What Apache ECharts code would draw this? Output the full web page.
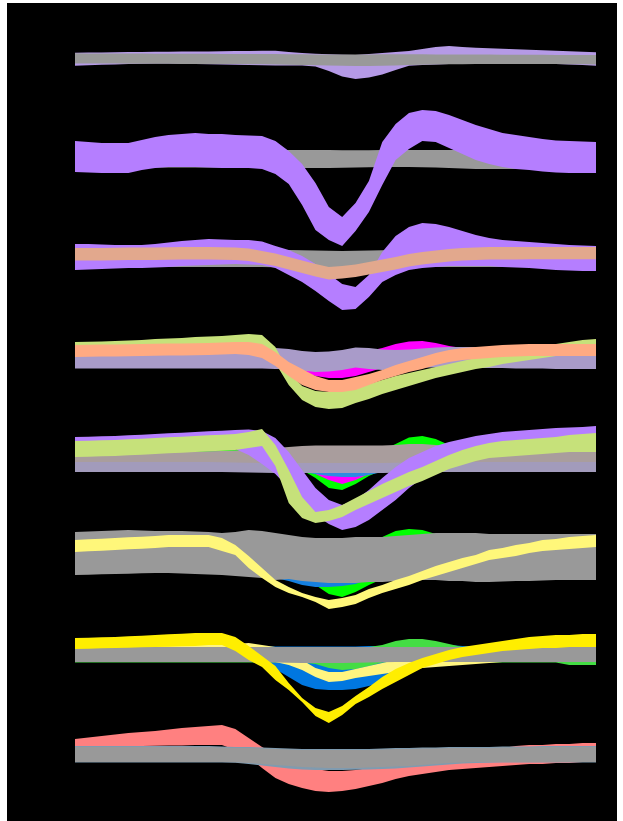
<!DOCTYPE html>
<html>
<head>
<meta charset="utf-8">
<script src="https://cdn.jsdelivr.net/npm/echarts@6/dist/echarts.min.js"></script>
<style>
  html, body { margin: 0; padding: 0; background: #fff; width: 623px; height: 821px; overflow: hidden; }
  #chart { position: absolute; left: 7px; top: 3px; width: 610px; height: 818px; background: #000; }
</style>
</head>
<body>
<div id="chart"></div>
<script>
// Sample times (ms) shared by every trace
const times = [-200,-180,-160,-140,-120,-100,-80,-60,-40,-20,
               0,20,40,60,80,100,120,140,160,180,
               200,220,240,260,280,300,320,340,360,380,
               400,420,440,460,480,500,520,540,560,580];

// ---- Panel 1 ----
const r1GrayHi = [0.57,0.56,0.55,0.55,0.54,0.54,0.53,0.53,0.52,0.52, 0.52,0.51,0.51,0.50,0.50,0.50,0.48,0.47,0.46,0.45, 0.45,0.45,0.46,0.47,0.48,0.48,0.47,0.46,0.45,0.45, 0.44,0.44,0.43,0.43,0.42,0.42,0.41,0.41,0.40,0.40];
const r1GrayLo = [-0.45,-0.45,-0.46,-0.46,-0.47,-0.47,-0.48,-0.48,-0.49,-0.50, -0.50,-0.50,-0.51,-0.52,-0.53,-0.55,-0.57,-0.60,-0.63,-0.66, -0.68,-0.70,-0.70,-0.68,-0.64,-0.60,-0.57,-0.55,-0.53,-0.52, -0.51,-0.50,-0.50,-0.50,-0.50,-0.50,-0.51,-0.52,-0.53,-0.55];
const r1LilacHi = [0.63,0.65,0.66,0.68,0.69,0.70,0.72,0.73,0.74,0.75, 0.76,0.77,0.79,0.80,0.82,0.83,0.70,0.60,0.52,0.47, 0.42,0.40,0.50,0.60,0.70,0.80,1.00,1.20,1.30,1.20, 1.13,1.08,1.03,0.98,0.93,0.88,0.83,0.78,0.72,0.67];
const r1LilacLo = [-0.67,-0.62,-0.58,-0.55,-0.50,-0.47,-0.44,-0.45,-0.48,-0.50, -0.52,-0.55,-0.57,-0.60,-0.62,-0.64,-0.65,-0.66,-0.75,-1.20, -1.75,-2.00,-1.85,-1.55,-1.10,-0.67,-0.60,-0.55,-0.50,-0.45, -0.42,-0.40,-0.38,-0.37,-0.40,-0.45,-0.50,-0.55,-0.60,-0.67];

// ---- Panel 2 ----
const r2GrayHi = [0.82,0.82,0.81,0.81,0.80,0.80,0.80,0.80,0.80,0.80, 0.80,0.80,0.80,0.80,0.80,0.80,0.80,0.80,0.79,0.79, 0.78,0.78,0.78,0.79,0.80,0.80,0.80,0.80,0.80,0.80, 0.80,0.80,0.80,0.80,0.80,0.80,0.80,0.80,0.80,0.80];
const r2GrayLo = [-0.95,-0.95,-0.95,-0.95,-0.95,-0.95,-0.95,-0.95,-0.95,-0.95, -0.95,-0.95,-0.95,-0.95,-0.95,-0.95,-0.97,-1.00,-1.00,-1.00, -0.97,-0.95,-0.92,-0.90,-0.90,-0.90,-0.92,-0.95,-1.00,-1.05, -1.10,-1.10,-1.10,-1.10,-1.10,-1.10,-1.10,-1.10,-1.10,-1.10];
const r2PurpleHi = [1.70,1.60,1.50,1.50,1.50,1.80,2.10,2.30,2.40,2.50, 2.40,2.40,2.30,2.25,2.20,1.70,0.70,-0.60,-2.50,-4.90, -5.90,-4.50,-2.30,1.60,3.40,4.50,4.80,4.70,4.30,3.80, 3.30,2.90,2.50,2.30,2.10,1.90,1.75,1.70,1.65,1.60];
const r2PurpleLo = [-1.40,-1.45,-1.50,-1.50,-1.50,-1.20,-1.00,-0.90,-0.90,-0.90, -0.95,-1.00,-1.00,-1.00,-1.10,-1.60,-2.60,-4.70,-7.20,-8.20, -8.80,-7.30,-5.40,-2.70,-0.20,0.90,1.70,1.60,1.00,0.40, -0.20,-0.60,-0.90,-1.10,-1.20,-1.35,-1.45,-1.50,-1.50,-1.50];

// ---- Panel 3 ----
const r3GrayHi = [0.80,0.80,0.80,0.80,0.80,0.80,0.80,0.80,0.80,0.80, 0.80,0.80,0.80,0.80,0.80,0.80,0.80,0.78,0.75,0.72, 0.70,0.72,0.75,0.78,0.80,0.80,0.80,0.80,0.80,0.80, 0.80,0.80,0.80,0.80,0.80,0.80,0.80,0.80,0.80,0.80];
const r3GrayLo = [-0.90,-0.90,-0.90,-0.90,-0.90,-0.90,-0.90,-0.90,-0.90,-0.90, -0.90,-0.90,-0.90,-0.90,-0.90,-0.92,-0.95,-0.98,-1.00,-1.00, -1.00,-1.00,-0.98,-0.95,-0.92,-0.90,-0.90,-0.90,-0.90,-0.90, -0.90,-0.90,-0.90,-0.90,-0.90,-0.90,-0.90,-0.90,-0.90,-0.90];
const r3PurpleHi = [1.40,1.40,1.35,1.30,1.30,1.30,1.40,1.55,1.70,1.80, 1.90,1.85,1.80,1.80,1.65,1.20,0.80,0.20,-0.60,-1.60, -2.60,-2.90,-1.70,0.60,2.20,3.10,3.50,3.40,3.10,2.70, 2.30,2.00,1.80,1.70,1.60,1.50,1.40,1.30,1.25,1.20];
const r3PurpleLo = [-1.20,-1.15,-1.10,-1.05,-1.00,-1.00,-0.95,-0.90,-0.80,-0.75, -0.70,-0.65,-0.60,-0.65,-0.70,-1.00,-1.70,-2.40,-3.30,-4.30, -5.20,-5.10,-3.90,-2.40,-1.70,-1.20,-1.00,-0.90,-0.80,-0.80, -0.80,-0.80,-0.90,-0.95,-1.00,-1.10,-1.20,-1.25,-1.30,-1.30];
const r3PeachHi = [1.00,1.00,1.00,1.02,1.04,1.05,1.06,1.08,1.10,1.10, 1.10,1.08,1.05,0.95,0.70,0.45,0.10,-0.25,-0.60,-0.90, -0.80,-0.65,-0.40,-0.15,0.10,0.40,0.60,0.75,0.90,1.00, 1.05,1.10,1.10,1.10,1.10,1.10,1.10,1.10,1.10,1.10];
const r3PeachLo = [-0.25,-0.25,-0.25,-0.23,-0.21,-0.20,-0.19,-0.17,-0.15,-0.15, -0.15,-0.17,-0.20,-0.30,-0.55,-0.80,-1.15,-1.50,-1.85,-2.15, -2.05,-1.90,-1.65,-1.40,-1.15,-0.85,-0.65,-0.50,-0.35,-0.25, -0.20,-0.15,-0.15,-0.15,-0.12,-0.12,-0.12,-0.12,-0.12,-0.12];

// ---- Panel 4 ----
const r4MauveHi = [1.00,1.00,1.00,1.00,1.00,1.00,1.00,1.00,1.00,1.00, 1.00,1.00,1.00,1.00,1.00,0.90,0.80,0.60,0.50,0.55, 0.70,0.95,0.90,0.75,0.70,0.75,0.85,0.95,1.00,1.00, 1.00,1.00,1.00,1.00,1.00,1.00,1.00,1.00,1.00,1.00];
const r4MauveLo = [-1.15,-1.15,-1.15,-1.15,-1.15,-1.15,-1.15,-1.15,-1.15,-1.15, -1.15,-1.15,-1.15,-1.15,-1.15,-1.20,-1.20,-1.35,-1.50,-1.45, -1.30,-1.05,-1.20,-1.30,-1.20,-1.10,-1.05,-1.05,-1.10,-1.10, -1.10,-1.10,-1.10,-1.15,-1.15,-1.15,-1.20,-1.20,-1.20,-1.20];
const r4MagentaHi = [0.50,0.50,0.50,0.50,0.50,0.50,0.50,0.50,0.50,0.50, 0.50,0.50,0.50,0.55,0.60,0.70,0.60,0.50,0.30,0.10, 0.00,0.20,0.60,0.90,1.30,1.55,1.60,1.40,1.10,0.90, 0.90,0.90,0.90,0.90,0.90,0.90,0.90,0.90,0.90,0.90];
const r4MagentaLo = [-0.90,-0.90,-0.90,-0.90,-0.90,-0.90,-0.90,-0.90,-0.90,-0.90, -0.90,-0.90,-0.90,-0.95,-1.00,-1.10,-1.30,-1.50,-1.90,-2.10, -2.10,-1.90,-1.50,-1.10,-0.70,-0.50,-0.40,-0.50,-0.50,-0.70, -0.70,-0.70,-0.70,-0.70,-0.70,-0.70,-0.70,-0.70,-0.70,-0.70];
const r4LimeHi = [1.50,1.52,1.55,1.60,1.65,1.70,1.80,1.85,1.90,2.00, 2.05,2.10,2.20,2.30,2.20,1.00,-1.50,-2.90,-3.40,-3.50, -3.40,-3.10,-2.70,-2.30,-1.90,-1.60,-1.30,-1.00,-0.70,-0.40, -0.10,0.20,0.50,0.70,0.90,1.10,1.30,1.50,1.70,1.80];
const r4LimeLo = [0.10,0.12,0.15,0.20,0.25,0.30,0.40,0.45,0.50,0.60, 0.65,0.70,0.80,0.90,0.70,-0.60,-2.80,-4.30,-5.00,-5.20, -5.10,-4.60,-4.20,-3.70,-3.30,-2.90,-2.50,-2.10,-1.80,-1.50, -1.20,-1.00,-0.70,-0.50,-0.30,-0.10,0.10,0.30,0.40,0.50];
const r4SalmonHi = [1.20,1.22,1.24,1.26,1.28,1.30,1.32,1.34,1.36,1.38, 1.40,1.45,1.50,1.50,1.30,0.50,-0.50,-1.20,-1.90,-2.30, -2.30,-2.00,-1.70,-1.30,-0.80,-0.40,0.00,0.40,0.70,0.90, 1.00,1.10,1.20,1.25,1.30,1.30,1.30,1.30,1.30,1.30];
const r4SalmonLo = [0.00,0.02,0.04,0.06,0.08,0.10,0.12,0.14,0.16,0.18, 0.20,0.25,0.30,0.20,-0.10,-0.90,-1.90,-2.80,-3.30,-3.50, -3.50,-3.30,-2.80,-2.30,-1.90,-1.50,-1.20,-0.80,-0.50,-0.30, -0.20,-0.10,0.00,0.05,0.10,0.10,0.10,0.10,0.10,0.10];

// ---- Panel 5 ----
const r5GreenHi = [0.80,0.80,0.80,0.80,0.80,0.80,0.80,0.80,0.80,0.80, 0.80,0.80,0.80,0.80,0.80,0.80,0.80,0.80,0.80,0.80, 0.80,0.80,0.80,0.80,1.40,2.05,2.20,1.90,1.30,0.80, 0.80,0.80,0.80,0.80,0.80,0.80,0.80,0.80,0.80,0.80];
const r5GreenLo = [-0.80,-0.80,-0.80,-0.80,-0.80,-0.80,-0.80,-0.80,-0.80,-0.80, -0.80,-0.80,-0.80,-0.80,-0.80,-0.80,-0.80,-1.20,-2.00,-3.00, -3.20,-2.60,-1.80,-1.20,-0.80,-0.80,-0.80,-0.80,-0.80,-0.80, -0.80,-0.80,-0.80,-0.80,-0.80,-0.80,-0.80,-0.80,-0.80,-0.80];
const r5MagentaHi = [0.50,0.50,0.50,0.50,0.50,0.50,0.50,0.50,0.50,0.50, 0.50,0.50,0.50,0.50,0.50,0.50,0.50,0.50,0.50,0.50, 0.50,0.50,0.50,0.50,0.50,0.50,0.50,0.50,0.50,0.50, 0.50,0.50,0.50,0.50,0.50,0.50,0.50,0.50,0.50,0.50];
const r5MagentaLo = [-1.00,-1.00,-1.00,-1.00,-1.00,-1.00,-1.00,-1.00,-1.00,-1.00, -1.00,-1.00,-1.00,-1.00,-1.00,-1.00,-1.00,-1.00,-1.60,-2.20, -2.60,-2.20,-1.60,-1.00,-1.00,-1.00,-1.00,-1.00,-1.00,-1.00, -1.00,-1.00,-1.00,-1.00,-1.00,-1.00,-1.00,-1.00,-1.00,-1.00];
const r5BlueHi = [0.00,0.00,0.00,0.00,0.00,0.00,0.00,0.00,0.00,0.00, 0.00,0.00,0.00,0.00,0.00,0.00,0.00,0.00,0.00,0.00, 0.00,0.00,0.00,0.00,0.00,0.00,0.00,0.00,0.00,0.00, 0.00,0.00,0.00,0.00,0.00,0.00,0.00,0.00,0.00,0.00];
const r5BlueLo = [-1.20,-1.20,-1.20,-1.20,-1.20,-1.20,-1.20,-1.20,-1.20,-1.20, -1.20,-1.20,-1.20,-1.20,-1.20,-1.20,-1.30,-1.40,-1.60,-1.80, -1.90,-1.90,-1.70,-1.40,-1.20,-1.20,-1.20,-1.20,-1.20,-1.20, -1.20,-1.20,-1.20,-1.20,-1.20,-1.20,-1.20,-1.20,-1.20,-1.20];
const r5MauveHi = [-0.20,-0.20,-0.20,-0.20,-0.20,-0.20,-0.20,-0.20,-0.20,-0.20, -0.20,-0.20,-0.20,-0.20,-0.20,-0.20,-0.20,-0.20,-0.20,-0.20, -0.20,-0.20,-0.20,-0.20,-0.20,-0.20,-0.20,-0.20,-0.20,-0.20, -0.20,-0.20,-0.20,-0.20,-0.20,-0.20,-0.20,-0.20,-0.20,-0.20];
const r5MauveLo = [-1.40,-1.40,-1.40,-1.40,-1.40,-1.40,-1.40,-1.40,-1.40,-1.40, -1.40,-1.40,-1.42,-1.45,-1.48,-1.50,-1.50,-1.50,-1.50,-1.50, -1.50,-1.50,-1.50,-1.50,-1.48,-1.45,-1.42,-1.40,-1.40,-1.40, -1.40,-1.40,-1.40,-1.40,-1.40,-1.40,-1.40,-1.40,-1.40,-1.40];
const r5TaupeHi = [0.50,0.50,0.52,0.54,0.56,0.58,0.60,0.62,0.64,0.66, 0.68,0.70,0.75,0.80,0.90,1.00,1.10,1.20,1.25,1.25, 1.25,1.25,1.25,1.25,1.30,1.40,1.40,1.30,1.10,0.90, 0.80,0.70,0.62,0.60,0.60,0.60,0.60,0.60,0.60,0.60];
const r5TaupeLo = [-0.40,-0.40,-0.40,-0.40,-0.40,-0.40,-0.40,-0.40,-0.40,-0.40, -0.40,-0.42,-0.45,-0.48,-0.50,-0.50,-0.50,-0.50,-0.50,-0.50, -0.50,-0.50,-0.50,-0.50,-0.48,-0.46,-0.44,-0.42,-0.40,-0.40, -0.40,-0.40,-0.40,-0.40,-0.40,-0.40,-0.40,-0.40,-0.40,-0.40];
const r5PurpleHi = [2.10,2.13,2.17,2.20,2.27,2.33,2.40,2.47,2.53,2.60, 2.67,2.73,2.80,2.85,2.70,2.00,0.60,-1.20,-3.00,-4.20, -4.70,-4.20,-3.20,-2.00,-0.90,0.00,0.60,1.20,1.60,1.90, 2.20,2.40,2.60,2.70,2.80,2.90,3.00,3.05,3.10,3.20];
const r5PurpleLo = [0.50,0.55,0.60,0.65,0.70,0.75,0.80,0.90,0.90,1.00, 1.00,1.00,0.90,0.30,-0.60,-1.60,-3.00,-4.40,-5.70,-6.60, -7.20,-6.90,-6.20,-5.20,-4.20,-3.00,-2.00,-1.20,-0.60,0.00, 0.40,0.70,0.90,1.10,1.20,1.30,1.40,1.50,1.60,1.70];
const r5LimeHi = [1.70,1.73,1.77,1.80,1.87,1.93,2.00,2.07,2.13,2.20, 2.27,2.33,2.40,2.60,2.90,1.30,-1.20,-3.90,-5.40,-5.20, -4.70,-4.00,-3.30,-2.60,-2.00,-1.40,-0.90,-0.30,0.30,0.80, 1.20,1.50,1.70,1.80,1.90,2.00,2.10,2.30,2.40,2.50];
const r5LimeLo = [0.10,0.13,0.17,0.20,0.27,0.33,0.40,0.47,0.53,0.60, 0.67,0.73,0.80,1.00,1.20,-0.80,-4.50,-6.00,-6.50,-6.30, -5.90,-5.20,-4.60,-4.00,-3.40,-2.80,-2.30,-1.70,-1.10,-0.70, -0.30,0.00,0.10,0.20,0.30,0.40,0.50,0.60,0.60,0.60];

// ---- Panel 6 ----
const r6GreenHi = [1.50,1.50,1.50,1.50,1.50,1.50,1.50,1.50,1.50,1.50, 1.50,1.50,1.50,1.50,1.50,1.50,1.50,1.50,1.50,1.50, 1.50,1.50,1.50,1.80,2.40,2.60,2.50,2.10,1.60,1.50, 1.50,1.50,1.50,1.50,1.50,1.50,1.50,1.50,1.50,1.50];
const r6GreenLo = [-1.70,-1.70,-1.70,-1.70,-1.70,-1.70,-1.70,-1.70,-1.70,-1.70, -1.70,-1.70,-1.70,-1.70,-1.70,-1.80,-2.00,-2.50,-3.00,-3.90, -4.20,-3.70,-3.00,-2.40,-2.00,-1.80,-1.70,-1.70,-1.70,-1.70, -1.70,-1.70,-1.70,-1.70,-1.70,-1.70,-1.70,-1.70,-1.70,-1.70];
const r6BlueHi = [1.50,1.50,1.50,1.50,1.50,1.50,1.50,1.50,1.50,1.50, 1.50,1.50,1.50,1.50,1.50,1.50,1.50,1.50,1.50,1.50, 1.50,1.50,1.50,1.50,1.50,1.50,1.50,1.50,1.50,1.50, 1.50,1.50,1.50,1.50,1.50,1.50,1.50,1.50,1.50,1.50];
const r6BlueLo = [-1.70,-1.70,-1.70,-1.70,-1.70,-1.70,-1.70,-1.70,-1.70,-1.70, -1.70,-1.70,-1.80,-1.90,-2.00,-2.30,-2.60,-3.00,-3.20,-3.20, -3.10,-2.90,-2.40,-2.00,-1.80,-1.70,-1.70,-1.70,-1.70,-1.70, -1.70,-1.70,-1.70,-1.70,-1.70,-1.70,-1.70,-1.70,-1.70,-1.70];
const r6GrayHi = [2.30,2.35,2.40,2.45,2.50,2.45,2.40,2.40,2.40,2.35, 2.30,2.20,2.30,2.50,2.40,2.20,2.00,1.80,1.70,1.70, 1.70,1.80,1.80,1.80,1.90,2.00,2.10,2.20,2.20,2.20, 2.20,2.10,2.10,2.10,2.10,2.10,2.10,2.10,2.10,2.10];
const r6GrayLo = [-2.00,-1.97,-1.93,-1.90,-1.87,-1.83,-1.80,-1.80,-1.85,-1.90, -1.95,-2.00,-2.10,-2.20,-2.30,-2.50,-2.40,-2.60,-2.70,-2.80, -2.80,-2.80,-2.70,-2.70,-2.60,-2.50,-2.50,-2.50,-2.60,-2.60, -2.70,-2.70,-2.65,-2.60,-2.60,-2.55,-2.50,-2.50,-2.50,-2.50];
const r6CreamHi = [1.50,1.57,1.63,1.70,1.77,1.83,1.90,2.00,2.00,2.00, 2.00,1.70,1.00,-0.10,-1.30,-2.50,-3.20,-3.80,-4.20,-4.50, -4.30,-4.00,-3.40,-3.00,-2.50,-2.10,-1.60,-1.10,-0.70,-0.30, 0.00,0.50,0.70,1.00,1.20,1.50,1.60,1.80,1.90,2.00];
const r6CreamLo = [0.30,0.37,0.43,0.50,0.57,0.63,0.70,0.80,0.80,0.80, 0.80,0.40,0.00,-1.30,-2.30,-3.20,-3.80,-4.20,-4.70,-5.40, -5.20,-4.90,-4.30,-3.80,-3.40,-3.00,-2.50,-2.10,-1.70,-1.30, -0.90,-0.50,-0.30,-0.10,0.20,0.40,0.50,0.60,0.70,0.80];

// ---- Panel 7 ----
const r7BlueHi = [0.85,0.85,0.85,0.85,0.85,0.85,0.85,0.85,0.85,0.85, 0.85,0.85,0.85,0.85,0.85,0.85,0.85,0.85,0.85,0.85, 0.85,0.85,0.90,0.90,0.90,0.95,1.00,1.00,1.00,0.90, 0.85,0.85,0.85,0.85,0.85,0.85,0.85,0.85,0.85,0.85];
const r7BlueLo = [-0.50,-0.50,-0.50,-0.50,-0.50,-0.50,-0.50,-0.50,-0.50,-0.50, -0.50,-0.50,-0.50,-0.60,-0.90,-1.40,-2.20,-3.00,-3.40,-3.50, -3.50,-3.40,-3.10,-2.70,-2.20,-1.70,-1.10,-0.80,-0.60,-0.60, -0.60,-0.60,-0.60,-0.60,-0.60,-0.60,-0.60,-0.60,-0.60,-0.60];
const r7GreenHi = [0.80,0.80,0.80,0.80,0.80,0.80,0.80,0.80,0.80,0.80, 0.80,0.80,0.80,0.80,0.80,0.80,0.80,0.80,0.80,0.80, 0.80,0.80,0.80,1.00,1.40,1.60,1.60,1.40,1.10,0.80, 0.80,0.80,0.80,0.80,0.80,0.80,0.80,0.80,0.80,0.80];
const r7GreenLo = [-0.75,-0.75,-0.75,-0.75,-0.75,-0.75,-0.75,-0.75,-0.75,-0.75, -0.75,-0.75,-0.75,-0.75,-0.75,-0.75,-0.75,-0.75,-0.90,-1.30, -1.50,-1.40,-1.10,-0.75,-0.75,-0.75,-0.75,-0.75,-0.75,-0.75, -0.75,-0.75,-0.75,-0.75,-0.75,-0.75,-0.75,-1.00,-1.00,-1.00];
const r7CreamHi = [1.00,1.00,1.00,1.00,1.00,1.00,1.00,1.00,1.00,1.00, 1.00,1.00,1.10,1.20,1.00,0.80,0.30,-0.50,-1.30,-1.70, -1.70,-1.40,-1.10,-0.80,-0.50,-0.20,0.00,0.20,0.50,0.50, 0.50,0.50,0.50,0.50,0.50,0.50,0.50,0.50,0.50,0.50];
const r7CreamLo = [-0.10,-0.10,-0.10,-0.10,-0.10,-0.10,-0.10,-0.10,-0.10,-0.10, -0.10,-0.10,-0.10,-0.10,-0.30,-0.70,-1.00,-1.50,-2.20,-2.70, -2.60,-2.30,-2.10,-1.90,-1.70,-1.50,-1.30,-1.20,-1.10,-1.00, -0.90,-0.80,-0.70,-0.50,-0.50,-0.50,-0.50,-0.50,-0.50,-0.50];
const r7GrayHi = [0.80,0.80,0.80,0.80,0.80,0.80,0.80,0.80,0.80,0.80, 0.80,0.80,0.80,0.80,0.80,0.80,0.80,0.80,0.80,0.80, 0.80,0.80,0.80,0.80,0.80,0.80,0.80,0.80,0.80,0.80, 0.80,0.80,0.80,0.80,0.80,0.80,0.80,0.80,0.80,0.80];
const r7GrayLo = [-0.70,-0.70,-0.70,-0.70,-0.70,-0.70,-0.70,-0.70,-0.70,-0.70, -0.70,-0.70,-0.70,-0.70,-0.72,-0.75,-0.78,-0.80,-0.80,-0.80, -0.80,-0.78,-0.75,-0.72,-0.70,-0.70,-0.70,-0.70,-0.70,-0.70, -0.70,-0.70,-0.70,-0.70,-0.70,-0.70,-0.70,-0.70,-0.70,-0.70];
const r7YellowHi = [1.70,1.73,1.77,1.80,1.87,1.93,2.00,2.07,2.13,2.20, 2.20,2.20,1.80,0.90,-0.10,-1.10,-2.80,-4.30,-5.30,-5.70, -5.10,-4.10,-3.20,-2.20,-1.40,-0.80,-0.30,0.10,0.50,0.80, 1.00,1.20,1.40,1.60,1.80,1.90,2.00,2.00,2.10,2.10];
const r7YellowLo = [0.60,0.63,0.67,0.70,0.73,0.77,0.80,0.83,0.87,0.90, 1.00,1.00,0.40,-0.50,-1.20,-2.50,-3.50,-4.70,-6.10,-6.80, -6.00,-4.90,-4.20,-3.40,-2.70,-2.00,-1.30,-0.90,-0.50,-0.20, 0.00,0.20,0.40,0.50,0.60,0.70,0.70,0.80,0.80,0.80];

// ---- Panel 8 ----
const r8PinkHi = [1.60,1.75,1.90,2.05,2.20,2.30,2.40,2.55,2.70,2.80, 2.90,3.00,2.60,1.70,0.80,0.10,-0.70,-1.10,-1.40,-1.60, -1.60,-1.50,-1.30,-1.00,-0.70,-0.50,-0.20,0.00,0.20,0.40, 0.50,0.60,0.70,0.90,1.00,1.00,1.10,1.10,1.20,1.20];
const r8PinkLo = [0.80,0.82,0.84,0.86,0.88,0.90,0.92,0.94,0.96,1.00, 1.00,1.00,0.50,-0.20,-1.30,-2.30,-2.90,-3.30,-3.60,-3.70, -3.60,-3.40,-3.10,-2.80,-2.40,-2.10,-1.90,-1.70,-1.50,-1.40, -1.30,-1.20,-1.10,-1.00,-0.90,-0.90,-0.80,-0.80,-0.70,-0.70];
const r8SteelHi = [0.90,0.90,0.90,0.90,0.90,0.90,0.90,0.90,0.90,0.90, 0.90,0.85,0.80,0.80,0.75,0.70,0.65,0.60,0.60,0.60, 0.60,0.60,0.60,0.65,0.70,0.70,0.75,0.75,0.80,0.80, 0.80,0.80,0.85,0.85,0.85,0.90,0.90,0.90,0.90,0.90];
const r8SteelLo = [-0.75,-0.75,-0.75,-0.75,-0.75,-0.75,-0.75,-0.75,-0.75,-0.75, -0.75,-0.75,-0.78,-0.90,-1.05,-1.20,-1.35,-1.45,-1.50,-1.50, -1.50,-1.48,-1.45,-1.40,-1.35,-1.25,-1.15,-1.05,-0.95,-0.85, -0.80,-0.78,-0.76,-0.75,-0.75,-0.75,-0.75,-0.75,-0.75,-0.75];
const r8GrayHi = [0.80,0.80,0.80,0.80,0.80,0.80,0.80,0.80,0.80,0.80, 0.80,0.75,0.70,0.70,0.65,0.60,0.55,0.50,0.50,0.50, 0.50,0.50,0.50,0.55,0.60,0.60,0.65,0.65,0.70,0.70, 0.70,0.70,0.75,0.75,0.75,0.80,0.80,0.80,0.80,0.80];
const r8GrayLo = [-0.70,-0.70,-0.70,-0.70,-0.70,-0.70,-0.70,-0.70,-0.70,-0.70, -0.70,-0.70,-0.72,-0.80,-0.90,-1.00,-1.10,-1.20,-1.25,-1.30, -1.30,-1.30,-1.25,-1.20,-1.15,-1.10,-1.00,-0.90,-0.80,-0.75, -0.70,-0.70,-0.70,-0.70,-0.70,-0.70,-0.70,-0.70,-0.70,-0.70];

// Colours
const GRAY = '#999999';
const PURPLE = '#b57eff';
const LIME = '#c6e17a';
const MAGENTA = '#ff00ff';
const GREEN = '#00ff00';

// Bands per panel, listed bottom layer first
const panels = [
  [[r1LilacHi, r1LilacLo, '#b59ae6'], [r1GrayHi, r1GrayLo, GRAY]],
  [[r2GrayHi, r2GrayLo, GRAY], [r2PurpleHi, r2PurpleLo, PURPLE]],
  [[r3GrayHi, r3GrayLo, GRAY], [r3PurpleHi, r3PurpleLo, PURPLE], [r3PeachHi, r3PeachLo, '#e2a88d']],
  [[r4MagentaHi, r4MagentaLo, MAGENTA], [r4MauveHi, r4MauveLo, '#a99bc9'], [r4LimeHi, r4LimeLo, LIME], [r4SalmonHi, r4SalmonLo, '#ffaa82']],
  [[r5GreenHi, r5GreenLo, GREEN], [r5MagentaHi, r5MagentaLo, MAGENTA], [r5BlueHi, r5BlueLo, '#2f8be0'],
   [r5MauveHi, r5MauveLo, '#a29bbb'], [r5TaupeHi, r5TaupeLo, '#a99d9d'], [r5PurpleHi, r5PurpleLo, PURPLE], [r5LimeHi, r5LimeLo, LIME]],
  [[r6GreenHi, r6GreenLo, GREEN], [r6BlueHi, r6BlueLo, '#1580e0'], [r6GrayHi, r6GrayLo, GRAY], [r6CreamHi, r6CreamLo, '#fff77a']],
  [[r7BlueHi, r7BlueLo, '#0077e0'], [r7GreenHi, r7GreenLo, '#44dd44'], [r7CreamHi, r7CreamLo, '#fff580'], [r7GrayHi, r7GrayLo, GRAY], [r7YellowHi, r7YellowLo, '#ffee00']],
  [[r8PinkHi, r8PinkLo, '#ff8080'], [r8SteelHi, r8SteelLo, '#7f9bb0'], [r8GrayHi, r8GrayLo, GRAY]]
];

// Vertical position (px, inside the chart box) of each panel's zero line
const panelZero = [56, 155, 255, 354, 455, 552, 652, 752];
const PANEL_HALF = 50;

// A band is the polygon between its upper and lower traces, projected through the panel axes
function bandRenderer(hi, lo, color) {
  return function (params, api) {
    const pts = [];
    for (let i = 0; i < times.length; i++) pts.push(api.coord([times[i], hi[i]]));
    for (let i = times.length - 1; i >= 0; i--) pts.push(api.coord([times[i], lo[i]]));
    return { type: 'polygon', shape: { points: pts }, style: { fill: color } };
  };
}

const grid = [], xAxis = [], yAxis = [], series = [];
panels.forEach((bands, p) => {
  grid.push({ left: 68, width: 521, top: panelZero[p] - PANEL_HALF, height: PANEL_HALF * 2 });
  xAxis.push({ type: 'value', gridIndex: p, min: times[0], max: times[times.length - 1], show: false });
  yAxis.push({ type: 'value', gridIndex: p, min: -5, max: 5, show: false });
  bands.forEach(([hi, lo, color]) => {
    series.push({
      type: 'custom', xAxisIndex: p, yAxisIndex: p, silent: true, clip: false,
      data: [[times[0], 0]], renderItem: bandRenderer(hi, lo, color)
    });
  });
});

const chart = echarts.init(document.getElementById('chart'), null, { renderer: 'canvas' });
chart.setOption({ backgroundColor: '#000', animation: false, grid, xAxis, yAxis, series });
</script>
</body>
</html>
